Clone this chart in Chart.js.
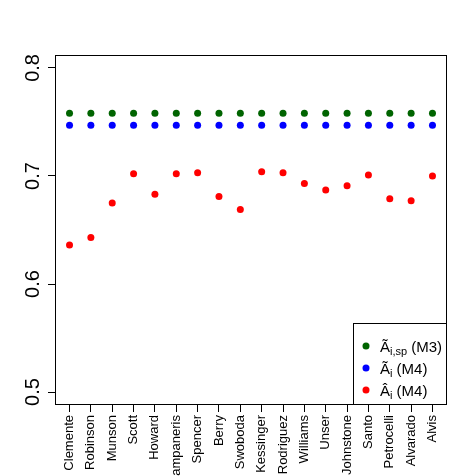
<!DOCTYPE html>
<html>
<head>
<meta charset="utf-8">
<script src="https://cdn.jsdelivr.net/npm/chart.js@4"></script>
<style>
  html, body { margin: 0; padding: 0; background: #fff; }
  #wrap { width: 476px; height: 476px; }
</style>
</head>
<body>
<div id="wrap"><canvas id="chart"></canvas></div>
<script>
const players = ["Clemente", "Robinson", "Munson", "Scott", "Howard", "Campaneris",
  "Spencer", "Berry", "Swoboda", "Kessinger", "Rodriguez", "Williams", "Unser",
  "Johnstone", "Santo", "Petrocelli", "Alvarado", "Alvis"];

const m3Pooled = [0.758, 0.758, 0.758, 0.758, 0.758, 0.758, 0.758, 0.758, 0.758,
  0.758, 0.758, 0.758, 0.758, 0.758, 0.758, 0.758, 0.758, 0.758];
const m4Tilde = [0.747, 0.747, 0.747, 0.747, 0.747, 0.747, 0.747, 0.747, 0.747,
  0.747, 0.747, 0.747, 0.747, 0.747, 0.747, 0.747, 0.747, 0.747];
const m4Hat = [0.636, 0.643, 0.675, 0.702, 0.683, 0.702, 0.703, 0.681, 0.669,
  0.704, 0.703, 0.693, 0.687, 0.691, 0.701, 0.679, 0.677, 0.700];

const yTicks = [0.5, 0.6, 0.7, 0.8];
const legendItems = [
  { base: "\u00C3", sub: "i,sp", tail: " (M3)", color: "#006400" },
  { base: "\u00C3", sub: "i", tail: " (M4)", color: "#0000FF" },
  { base: "\u00C2", sub: "i", tail: " (M4)", color: "#FF0000" },
];

const FONT = "'Liberation Sans', Arial, sans-serif";

// box, rotated y labels and legend, drawn like base R graphics
const rStyle = {
  id: "rStyle",
  afterDraw(chart) {
    const { ctx, chartArea: a, scales } = chart;
    ctx.save();
    ctx.strokeStyle = "#000";
    ctx.lineWidth = 1;
    ctx.strokeRect(a.left + 0.5, a.top + 0.5, a.right - a.left - 1, a.bottom - a.top - 1);

    // y tick labels, rotated
    ctx.fillStyle = "#000";
    ctx.font = "20px " + FONT;
    ctx.textAlign = "center";
    ctx.textBaseline = "alphabetic";
    yTicks.forEach((t) => {
      const y = scales.y.getPixelForValue(t);
      ctx.save();
      ctx.translate(39, y);
      ctx.rotate(-Math.PI / 2);
      ctx.fillText(t.toFixed(1), 0, 0);
      ctx.restore();
    });

    // legend
    const lx = 353, ly = 323;
    ctx.fillStyle = "#fff";
    ctx.fillRect(lx, ly, a.right - lx, a.bottom - ly);
    ctx.strokeRect(lx + 0.5, ly + 0.5, a.right - lx - 1, a.bottom - ly - 1);
    legendItems.forEach((it, i) => {
      const cy = 346 + i * 22;
      ctx.fillStyle = it.color;
      ctx.beginPath();
      ctx.arc(366, cy, 3.5, 0, Math.PI * 2);
      ctx.fill();
      ctx.fillStyle = "#000";
      ctx.textAlign = "left";
      ctx.font = "15px " + FONT;
      let x = 380;
      const base = cy + 6;
      ctx.fillText(it.base, x, base);
      x += ctx.measureText(it.base).width;
      ctx.font = "11px " + FONT;
      ctx.fillText(it.sub, x, base + 3);
      x += ctx.measureText(it.sub).width;
      ctx.font = "15px " + FONT;
      ctx.fillText(it.tail, x, base);
    });
    ctx.restore();
  },
};

const makeSet = (label, values, color) => ({
  label,
  data: values.map((v, i) => ({ x: i + 1, y: v })),
  showLine: false,
  pointRadius: 3.5,
  pointHoverRadius: 3.5,
  pointBackgroundColor: color,
  pointBorderWidth: 0,
  borderColor: color,
});

new Chart(document.getElementById("chart"), {
  type: "scatter",
  data: {
    datasets: [
      makeSet("M3 pooled", m3Pooled, "#006400"),
      makeSet("M4 tilde", m4Tilde, "#0000FF"),
      makeSet("M4 hat", m4Hat, "#FF0000"),
    ],
  },
  options: {
    responsive: true,
    maintainAspectRatio: false,
    animation: false,
    events: [],
    layout: { padding: { top: 55, right: 29, left: 0, bottom: 0 } },
    plugins: { legend: { display: false }, tooltip: { enabled: false } },
    scales: {
      x: {
        type: "linear",
        min: 0.32,
        max: 18.68,
        afterFit: (s) => { s.height = 71; },
        afterBuildTicks: (s) => {
          s.ticks = players.map((p, i) => ({ value: i + 1 }));
        },
        border: { display: false },
        grid: { drawOnChartArea: false, tickLength: 7, color: "#000" },
        ticks: {
          autoSkip: false,
          minRotation: 90,
          maxRotation: 90,
          padding: 3,
          color: "#000",
          font: { family: FONT, size: 13 },
          callback: (v) => players[v - 1] || "",
        },
      },
      y: {
        min: 0.488,
        max: 0.812,
        afterFit: (s) => { s.width = 55; },
        afterBuildTicks: (s) => {
          s.ticks = yTicks.map((v) => ({ value: v }));
        },
        border: { display: false },
        grid: { drawOnChartArea: false, tickLength: 7, color: "#000" },
        ticks: { display: false },
      },
    },
  },
  plugins: [rStyle],
});
</script>
</body>
</html>
